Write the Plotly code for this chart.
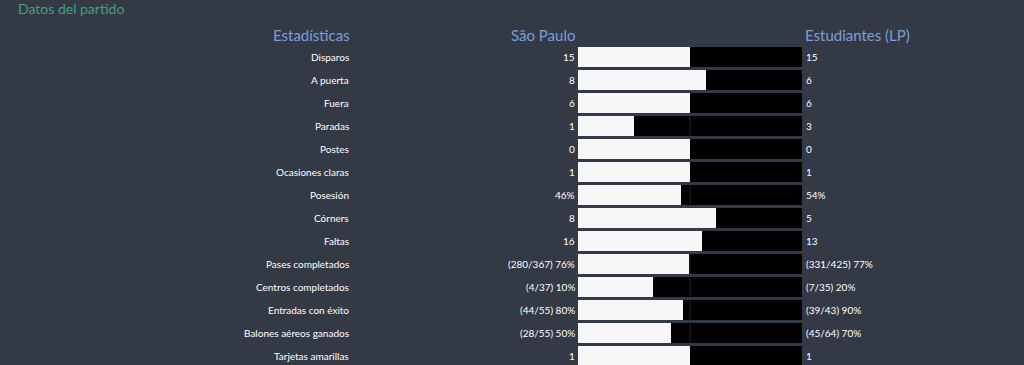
import plotly.graph_objects as go

stats = ["Disparos", "A puerta", "Fuera", "Paradas", "Postes", "Ocasiones claras",
         "Posesión", "Córners", "Faltas", "Pases completados", "Centros completados",
         "Entradas con éxito", "Balones aéreos ganados", "Tarjetas amarillas"]
home_vals = [15, 8, 6, 1, 0, 1, 46, 8, 16, 76, 10, 80, 50, 1]
away_vals = [15, 6, 6, 3, 0, 1, 54, 5, 13, 77, 20, 90, 70, 1]
home_text = ["15", "8", "6", "1", "0", "1", "46%", "8", "16", "(280/367) 76%",
             "(4/37) 10%", "(44/55) 80%", "(28/55) 50%", "1"]
away_text = ["15", "6", "6", "3", "0", "1", "54%", "5", "13", "(331/425) 77%",
             "(7/35) 20%", "(39/43) 90%", "(45/64) 70%", "1"]
home_team = "São Paulo"
away_team = "Estudiantes (LP)"
col_header = "Estadísticas"
title = "Datos del partido"

W, H = 1024, 365
ROW0, STEP = 57.0, 23.0
FONT = "Lato"

ys = list(range(len(stats)))
home_frac = []
for h, a in zip(home_vals, away_vals):
    home_frac.append(0.5 if h + a == 0 else h / (h + a))
away_frac = [1 - f for f in home_frac]

fig = go.Figure()
fig.add_trace(go.Bar(y=ys, x=home_frac, orientation="h", marker=dict(color="#f7f7f7", line=dict(width=0)),
                     width=0.85, hoverinfo="skip"))
fig.add_trace(go.Bar(y=ys, x=away_frac, orientation="h", marker=dict(color="#000000", line=dict(width=0)),
                     width=0.85, hoverinfo="skip"))

ann = []
for i, s in enumerate(stats):
    ann.append(dict(x=351 / W, y=i, xref="paper", yref="y", text=s, showarrow=False,
                    xanchor="right", yanchor="middle", font=dict(family=FONT, size=10, color="#ffffff")))
    ann.append(dict(x=577 / W, y=i, xref="paper", yref="y", text=home_text[i], showarrow=False,
                    xanchor="right", yanchor="middle", font=dict(family=FONT, size=10, color="#ffffff")))
    ann.append(dict(x=804 / W, y=i, xref="paper", yref="y", text=away_text[i], showarrow=False,
                    xanchor="left", yanchor="middle", font=dict(family=FONT, size=10, color="#ffffff")))

ann.append(dict(x=16 / W, y=1 - 8 / H, xref="paper", yref="paper", text=title, showarrow=False,
                xanchor="left", yanchor="middle", font=dict(family=FONT, size=14, color="#4a9e7c")))
ann.append(dict(x=352 / W, y=1 - 35 / H, xref="paper", yref="paper", text=col_header, showarrow=False,
                xanchor="right", yanchor="middle", font=dict(family=FONT, size=15, color="#76a0da")))
ann.append(dict(x=577 / W, y=1 - 35 / H, xref="paper", yref="paper", text=home_team, showarrow=False,
                xanchor="right", yanchor="middle", font=dict(family=FONT, size=15, color="#76a0da")))
ann.append(dict(x=803 / W, y=1 - 35 / H, xref="paper", yref="paper", text=away_team, showarrow=False,
                xanchor="left", yanchor="middle", font=dict(family=FONT, size=15, color="#76a0da")))

shapes = []
for i, f in enumerate(home_frac):
    if f < 0.5:
        shapes.append(dict(type="line", xref="x", yref="y", x0=0.5, x1=0.5, y0=i - 0.42, y1=i + 0.42,
                           line=dict(color="#262626", width=1)))

fig.update_layout(
    width=W, height=H, margin=dict(l=0, r=0, t=0, b=0),
    paper_bgcolor="#343946", plot_bgcolor="rgba(0,0,0,0)",
    barmode="stack", bargap=0, showlegend=False,
    xaxis=dict(domain=[578 / W, 802 / W], range=[0, 1], visible=False, fixedrange=True),
    yaxis=dict(range=[(H - ROW0) / STEP, -ROW0 / STEP], visible=False, fixedrange=True),
    annotations=ann, shapes=shapes,
)
fig.write_html("out.html")
